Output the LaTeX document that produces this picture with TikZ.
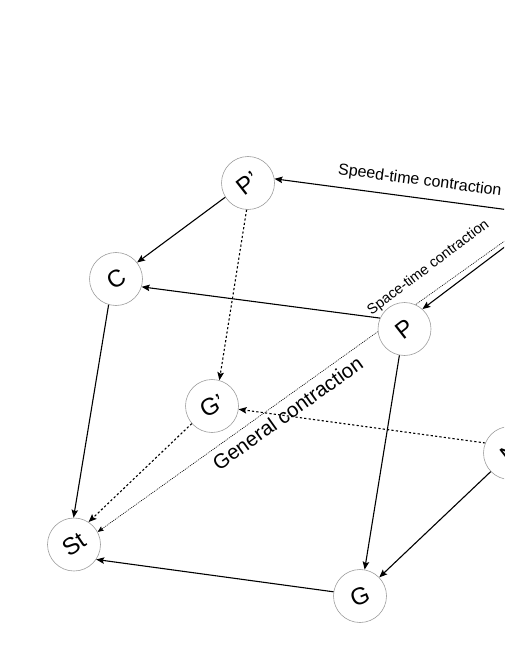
\documentclass[tikz,border=0pt]{standalone}
\usepackage{fontspec}
\setmainfont{Liberation Sans}
\usepackage{graphicx}
\usepackage{tikz}
\usetikzlibrary{arrows.meta, backgrounds}
\definecolor{RG}{RGB}{158,158,158}

\begin{document}
\begin{tikzpicture}[x=1pt, y=-1pt,
  ball/.style={circle, draw=RG, line width=0.6pt, fill=white,
               minimum size=53pt, inner sep=0pt, font=\fontsize{24}{24}\selectfont},
  arr/.style={-{Stealth[length=8pt,width=6.5pt,inset=1.5pt]}, line width=1.1pt},
  dsh/.style={arr, dash pattern=on 2.2pt off 2.2pt},
  gen/.style={-{Stealth[length=6pt,width=5pt,inset=1pt]}, line width=0.6pt,
              dash pattern=on 1pt off 1pt},
  lbl/.style={font=\fontsize{#1}{#1}\selectfont, inner sep=1pt, sloped}
]
\useasboundingbox (0,0) rectangle (504,652);
\clip (0,0) rectangle (504,652);

\node[ball] (Pp) at (248,183)   {\rotatebox{38}{P’}};
\node[ball] (C)  at (116,279)   {\rotatebox{32}{C}};
\node[ball] (P)  at (404.5,329) {\rotatebox{38}{P}};
\node[ball] (Gp) at (212,406)   {\rotatebox{28}{G’}};
\node[ball] (St) at (74,544.5)  {\rotatebox{34}{St}};
\node[ball] (G)  at (360,596)   {\rotatebox{22}{G}};
\node[ball] (N)  at (510,453)   {\rotatebox{38}{N}};

% free ends beyond the right edge
\coordinate (ne)  at (547,215);
\coordinate (ne2) at (547,210.7);

\draw[arr] (ne) -- node[lbl=16, above=8pt, pos=0.475] {Speed-time contraction} (Pp.9);
\draw[arr] (ne) -- node[lbl=14.5, above=21pt, pos=0.81] {Space-time contraction} (P.48);

\draw[arr] (Pp.212) -- (C.38);
\draw[arr] (P.156) -- (C.-17);
\draw[arr] (C.254) -- (St.91);
\draw[arr] (G.171) -- (St.-34);
\draw[arr] (P.259) -- (G.80);
\draw[arr] (N.224) -- (G.44);

\draw[dsh] (Pp.267) -- (Gp.74);
\draw[dsh] (Gp.221) -- (St.57);
\draw[dsh] (N.158) -- (Gp.-7);

% general contraction runs under P
\begin{scope}[on background layer]
  \clip (0,0) rectangle (504,652);
  \draw[gen] (ne2) -- node[lbl=20.5, below=5pt, pos=0.595] {General contraction} (St.28);
\end{scope}
\end{tikzpicture}
\end{document}
